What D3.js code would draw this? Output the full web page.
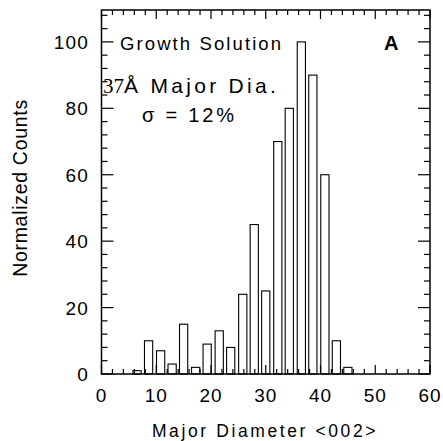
<!DOCTYPE html>
<html>
<head>
<meta charset="utf-8">
<script src="https://cdn.jsdelivr.net/npm/d3@7"></script>
<style>
  html, body { margin: 0; padding: 0; background: #fff; }
  svg { display: block; }
  text { font-family: "Liberation Sans", Arial, sans-serif; fill: #000; }
</style>
</head>
<body>
<svg id="chart" width="443" height="441"></svg>
<script>
// Data
const binCenters = [6.5, 8.6, 10.8, 12.9, 15.0, 17.2, 19.3, 21.5, 23.6, 25.8, 27.9, 30.0, 32.2, 34.3, 36.5, 38.6, 40.8, 42.9, 45.0];
const counts     = [1, 10, 7, 3, 15, 2, 9, 13, 8, 24, 45, 25, 70, 80, 100, 90, 60, 10, 2];
const xTickValues = [0, 10, 20, 30, 40, 50, 60];
const yTickValues = [0, 20, 40, 60, 80, 100];
const barWidthUnits = 1.5;

const svg = d3.select("#chart");
const L = 101.5, R = 430, T = 10, B = 374;

const x = d3.scaleLinear().domain([0, 60]).range([L, R]);
const y = d3.scaleLinear().domain([0, 109.6]).range([B, T]);

// bars
svg.append("g").selectAll("rect").data(counts).join("rect")
  .attr("x", (d, i) => x(binCenters[i] - barWidthUnits / 2))
  .attr("width", (d, i) => x(binCenters[i] + barWidthUnits / 2) - x(binCenters[i] - barWidthUnits / 2))
  .attr("y", d => y(d))
  .attr("height", d => y(0) - y(d))
  .attr("fill", "#fff").attr("stroke", "#000").attr("stroke-width", 1.1);

// ticks (inward on all sides)
const tickG = svg.append("g").attr("stroke", "#000").attr("stroke-width", 1.2);
const xMinor = d3.range(0, 61, 2);
xMinor.forEach(v => {
  const major = v % 10 === 0;
  const len = major ? 9 : 5;
  tickG.append("line").attr("x1", x(v)).attr("x2", x(v)).attr("y1", B).attr("y2", B - len);
  tickG.append("line").attr("x1", x(v)).attr("x2", x(v)).attr("y1", T).attr("y2", T + len);
});
const yMinor = d3.range(0, 109, 4);
yMinor.forEach(v => {
  const major = v % 20 === 0;
  const len = major ? 12 : 6;
  tickG.append("line").attr("x1", L).attr("x2", L + len).attr("y1", y(v)).attr("y2", y(v));
  tickG.append("line").attr("x1", R).attr("x2", R - len).attr("y1", y(v)).attr("y2", y(v));
});

// frame
svg.append("rect").attr("x", L).attr("y", T).attr("width", R - L).attr("height", B - T)
  .attr("fill", "none").attr("stroke", "#000").attr("stroke-width", 1.5);

// tick labels
svg.append("g").selectAll("text").data(xTickValues).join("text")
  .attr("x", d => x(d)).attr("y", 402)
  .attr("text-anchor", "middle").attr("font-size", 19).attr("letter-spacing", 1)
  .text(d => d);
svg.append("g").selectAll("text").data(yTickValues).join("text")
  .attr("x", 89).attr("y", d => y(d) + 7)
  .attr("text-anchor", "end").attr("font-size", 19).attr("letter-spacing", 1.2)
  .text(d => d);

// axis titles
svg.append("text").attr("x", 265).attr("y", 437).attr("text-anchor", "middle")
  .attr("font-size", 17.5).attr("letter-spacing", 2.6).text("Major Diameter <002>");
svg.append("text").attr("transform", "translate(27,188) rotate(-90)")
  .attr("text-anchor", "middle").attr("font-size", 19.5).attr("letter-spacing", 0.7).text("Normalized Counts");

// annotations
svg.append("text").attr("x", 120).attr("y", 50).attr("font-size", 18.5).attr("letter-spacing", 2.1)
  .text("Growth Solution");
svg.append("text").attr("x", 384).attr("y", 50).attr("font-size", 20).attr("font-weight", "bold")
  .text("A");
const t2 = svg.append("text").attr("x", 103).attr("y", 93).attr("font-size", 21).attr("letter-spacing", 3.3);
t2.append("tspan").attr("font-family", "Liberation Serif, serif").attr("letter-spacing", 0).text("37");
t2.append("tspan").text("Å Major Dia.");
svg.append("text").attr("x", 142).attr("y", 122).attr("font-size", 20).attr("letter-spacing", 2.8)
  .text("σ = 12%");
</script>
</body>
</html>
